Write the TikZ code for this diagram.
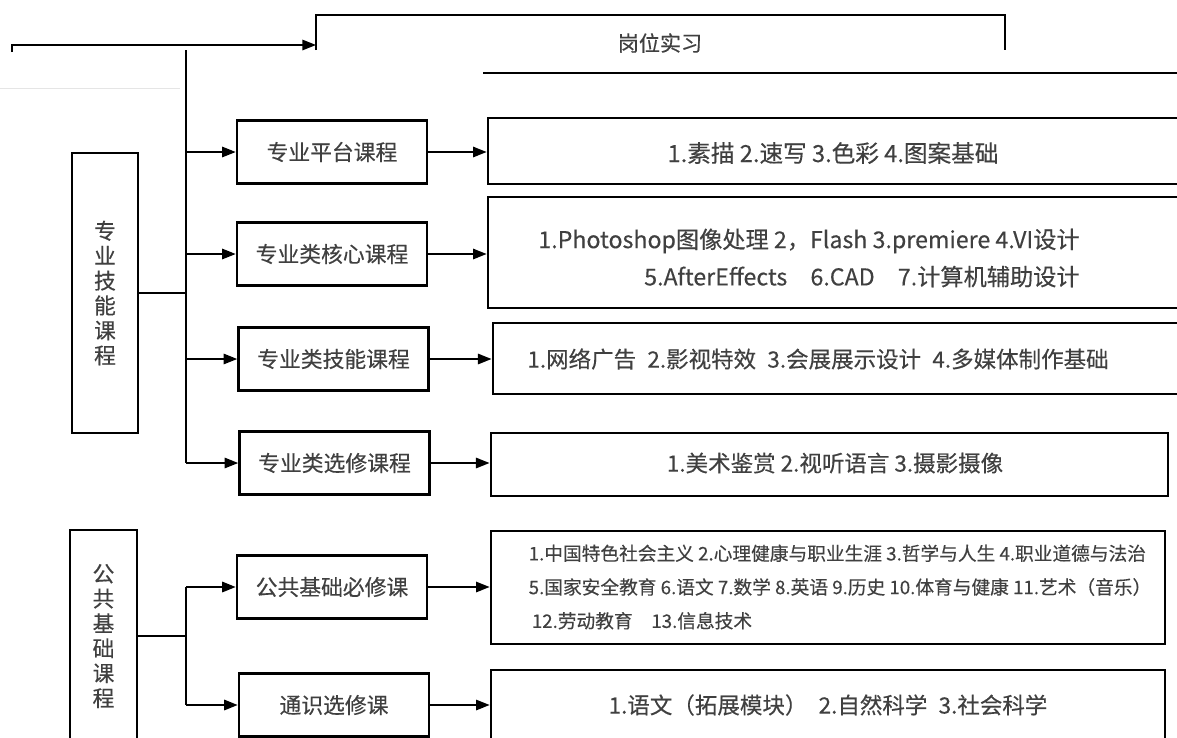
\documentclass[tikz,border=0pt]{standalone}
\usepackage{fontspec}
\setmainfont{Noto Sans CJK SC}[FakeBold=0.35]
\usetikzlibrary{arrows.meta,positioning,calc}

\begin{document}
\begin{tikzpicture}
    [   x = 0.025cm, y = -0.025cm
    ,   > = {Triangle[length=3.4mm,width=2.6mm]}
    ,   group/.style =
        {   draw
        ,   line width = 1.8pt
        ,   align = center
        ,   inner sep = 0mm
        ,   text = black!75
        ,   font = \fontsize{15.5}{17.7}\selectfont
        }
    ,   course/.style =
        {   draw
        ,   line width = 1.8pt
        ,   minimum width = 47.5mm
        ,   minimum height = 15.8mm
        ,   text = black!75
        ,   font = \fontsize{15.5}{18}\selectfont
        }
    ,   detail/.style =
        {   draw
        ,   line width = 1.8pt
        ,   inner sep = 0mm
        }
    ,   itemtext/.style =
        {   text = black!75
        ,   inner sep = 0mm
        ,   font = \fontsize{16}{26}\selectfont
        }
    ,   link/.style = {->, line width = 1.2pt}
    ]
    \clip (0,0) rectangle (1177,737);

    % top part of the page (cut off)
    \draw[line width=1.6pt] (316,50) |- (1005,15) -- (1005,50);
    \coordinate (intern) at (316,45);
    \coordinate (start) at (12,52);
    \node[itemtext, font=\fontsize{15}{18}\selectfont] (internlabel) at (660,43) {岗位实习};
    \draw[link] (start) |- (intern);
    \draw[line width=1.6pt] (483,73) -- (1177,73);
    \draw[black!10, line width=0.6pt] (0,88) -- (180,88);

    % left column
    \node[group, minimum width=16.5mm, minimum height=70mm] (skill) at (105,293)
        {专\\业\\技\\能\\课\\程};
    \node[group, minimum width=16.7mm, minimum height=53mm] (public) at (103.5,636)
        {公\\共\\基\\础\\课\\程};

    % middle column
    \foreach\n/\x/\y/\t in
        {   m1/332/152/专业平台课程
        ,   m2/332/254/专业类核心课程
        ,   m3/333.5/359/专业类技能课程
        ,   m4/334.5/463/专业类选修课程
        ,   m5/332/587/公共基础必修课
        ,   m6/334/705/通识选修课
        }
    {   \node[course] (\n) at (\x,\y) {\t};
    }

    % right column
    \node[detail, minimum width=175.5mm, minimum height=16.5mm]  (r1) at (839,151) {};
    \node[detail, minimum width=175.5mm, minimum height=27.75mm] (r2) at (839,252.5) {};
    \node[detail, minimum width=174.3mm, minimum height=17.75mm] (r3) at (841.5,358.5) {};
    \node[detail, minimum width=169.3mm, minimum height=15.75mm] (r4) at (829.5,464.5) {};
    \node[detail, minimum width=168.5mm, minimum height=28.25mm] (r5) at (828,587.5) {};
    \node[detail, minimum width=168.5mm, minimum height=22.5mm]  (r6) at (828,715) {};

    \node[itemtext, font=\fontsize{16.8}{26}\selectfont] (t1) at (833,153)
        {1.素描 2.速写 3.色彩 4.图案基础};
    \node[itemtext, align=right, font=\fontsize{16.5}{26.5}\selectfont] (t2) at (809,258)
        {1.Photoshop图像处理 2，Flash 3.premiere 4.VI设计\\
         5.AfterEffects\quad 6.CAD\quad 7.计算机辅助设计};
    \node[itemtext] (t3) at (818,359)
        {1.网络广告\enspace 2.影视特效\enspace 3.会展展示设计\enspace 4.多媒体制作基础};
    \node[itemtext] (t4) at (835,463) {1.美术鉴赏 2.视听语言 3.摄影摄像};
    \node[itemtext, align=left, font=\fontsize{13.3}{24}\selectfont] (t5) at (840,587)
        {1.中国特色社会主义 2.心理健康与职业生涯 3.哲学与人生 4.职业道德与法治\\
         5.国家安全教育 6.语文 7.数学 8.英语 9.历史 10.体育与健康 11.艺术（音乐）\\
         \,12.劳动教育\quad 13.信息技术};
    \node[itemtext] (t6) at (828,705) {1.语文（拓展模块）\enspace 2.自然科学\enspace 3.社会科学};

    % buses
    \coordinate (bus) at (186,50);
    \coordinate (bus2) at (186,587);
    \draw[line width=1.2pt] (bus) -- (bus |- m4.west);
    \draw[line width=1.4pt] (skill.east) -- (skill.east -| bus);
    \draw[line width=1.4pt] (bus2) -- (bus2 |- m6.west);
    \draw[line width=1.4pt] (public.east) -- (public.east -| bus2);
    \foreach\m in {m1,m2,m3,m4}
    {   \draw[link] (bus |- \m.west) -- (\m.west);
    }
    \foreach\m in {m5,m6}
    {   \draw[link, line width=1.4pt] (bus2 |- \m.west) -- (\m.west);
    }
    \foreach\m/\r in {m1/r1,m2/r2,m3/r3,m4/r4,m5/r5,m6/r6}
    {   \draw[link] (\m.east) -- (\m.east -| \r.west);
    }

\end{tikzpicture}
\end{document}
